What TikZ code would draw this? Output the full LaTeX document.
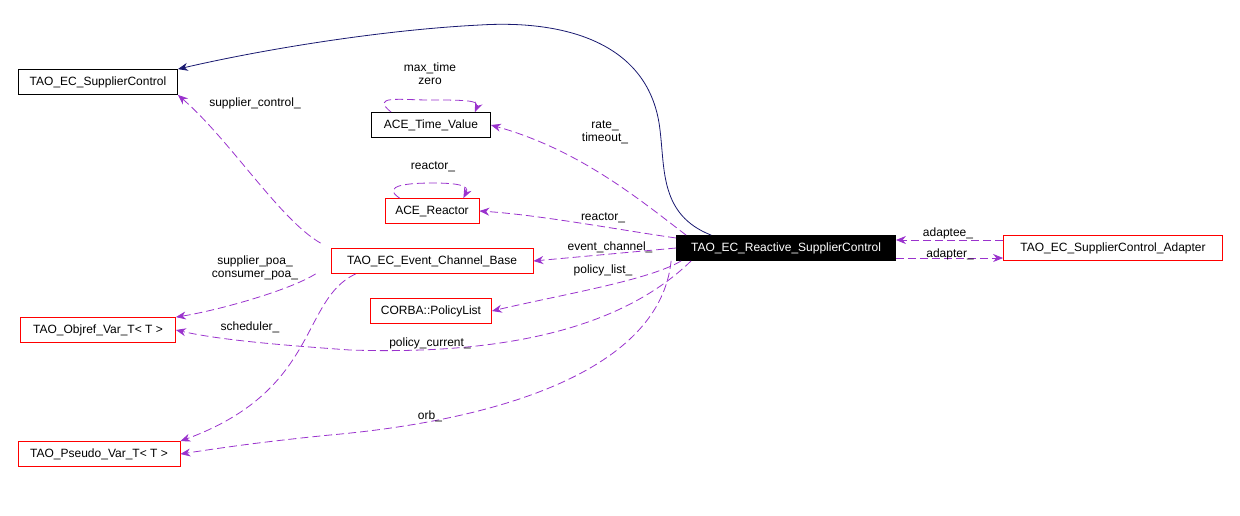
\documentclass[tikz,border=0pt]{standalone}
\usepackage{fontspec}
\setmainfont{Liberation Sans}
\usetikzlibrary{arrows.meta}
\tikzset{
  cls/.style={draw=red, fill=white, inner sep=0pt, minimum height=12.5pt, font=\fontsize{6}{7}\selectfont},
  plain/.style={cls, draw=black},
  edgelab/.style={font=\fontsize{6}{6.5}\selectfont, align=center, inner sep=0.5pt},
  use/.style={densely dashed, dash pattern=on 4pt off 2pt, draw={rgb,255:red,154;green,50;blue,205}, -{Stealth[length=5pt,width=4pt]}},
  inherit/.style={draw={rgb,255:red,25;green,25;blue,112}, -{Stealth[length=5pt,width=4pt]}}
}
\begin{document}
\begin{tikzpicture}[x=0.5pt,y=-0.5pt]
  \useasboundingbox (0,0) rectangle (1240,515);

  \node[plain, minimum width=79.5pt] (ctrl) at (98,82) {TAO\_EC\_SupplierControl};
  \node[plain, minimum width=59.5pt] (time) at (431,125) {ACE\_Time\_Value};
  \node[cls, minimum width=47pt] (reactor) at (432,211) {ACE\_Reactor};
  \node[cls, minimum width=101pt] (ecb) at (432,261) {TAO\_EC\_Event\_Channel\_Base};
  \node[cls, minimum width=60.5pt] (plist) at (431,311) {CORBA::PolicyList};
  \node[cls, minimum width=77.5pt] (objref) at (98,330) {TAO\_Objref\_Var\_T< T >};
  \node[cls, minimum width=81pt] (pseudo) at (99,454) {TAO\_Pseudo\_Var\_T< T >};
  \node[cls, draw=black, fill=black, text=white, minimum width=109.5pt] (rsc) at (786,248) {TAO\_EC\_Reactive\_SupplierControl};
  \node[cls, minimum width=109.5pt] (adapter) at (1113,248) {TAO\_EC\_SupplierControl\_Adapter};

  % inheritance
  \draw[inherit] (rsc.north west) ++(35,0) .. controls (660,215) and (665,170) .. (660,130)
        .. controls (650,40) and (560,20) .. (480,25) .. controls (380,30) and (260,50) .. (ctrl.north east);

  % usage
  \draw[use] (ecb.north west) ++(-10,-5) .. controls (280,220) and (230,140) .. (ctrl.south east);
  \node[edgelab] (lsc) at (255,103) {supplier\_control\_};
  \draw[use] (rsc.north west) ++(10,0) .. controls (640,200) and (580,150) .. (time.east);
  \node[edgelab] (lrt) at (605,132) {rate\_\\timeout\_};
  \draw[use] (time.north west) ++(20,0) .. controls (370,95) and (400,100) .. (430,100)
        .. controls (460,100) and (480,100) .. ([xshift=-8pt]time.north east);
  \node[edgelab] (lmz) at (430,74) {max\_time\\zero};
  \draw[use] (reactor.north west) ++(15,0) .. controls (380,185) and (410,183) .. (433,183)
        .. controls (455,183) and (470,185) .. ([xshift=-8pt]reactor.north east);
  \node[edgelab] (lr1) at (433,167) {reactor\_};
  \draw[use] (rsc.west) ++(0,-10) .. controls (620,230) and (540,215) .. (reactor.east);
  \node[edgelab] (lr2) at (603,218) {reactor\_};
  \draw[use] (rsc.west) -- (ecb.east);
  \node[edgelab] (lec) at (610,247) {event\_channel\_};
  \draw[use] (rsc.south west) ++(5,0) .. controls (650,280) and (560,295) .. (plist.east);
  \node[edgelab] (lpl) at (603,270) {policy\_list\_};
  \draw[use] (rsc.south west) ++(15,0) .. controls (620,330) and (500,355) .. (350,350)
        .. controls (280,345) and (220,340) .. (objref.east);
  \node[edgelab] (lpc) at (430,343) {policy\_current\_};
  \draw[use] (ecb.south west) ++(-15,0) .. controls (290,290) and (220,310) .. (objref.north east);
  \node[edgelab] (lpoa) at (255,268) {supplier\_poa\_\\consumer\_poa\_};
  \draw[use] (ecb.south west) ++(25,0) .. controls (300,300) and (320,390) .. (pseudo.north east);
  \node[edgelab] (lsch) at (250,327) {scheduler\_};
  \draw[use] (rsc.south west) ++(-5,0) .. controls (660,370) and (500,420) .. (330,435)
        .. controls (260,442) and (220,448) .. (pseudo.east);
  \node[edgelab] (lorb) at (430,416) {orb\_};
  \draw[use] ([yshift=4pt]adapter.west) -- ([yshift=4pt]rsc.east);
  \node[edgelab] (lade) at (948,233) {adaptee\_};
  \draw[use] ([yshift=-5pt]rsc.east) -- ([yshift=-5pt]adapter.west);
  \node[edgelab] (ladr) at (950,254) {adapter\_};
\end{tikzpicture}
\end{document}
